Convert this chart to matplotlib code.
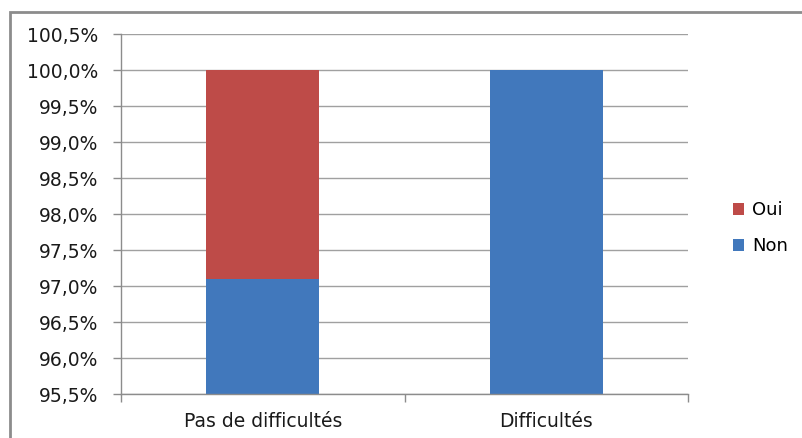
import matplotlib
matplotlib.use("Agg")
import matplotlib.pyplot as plt
from matplotlib.patches import Rectangle
from matplotlib.ticker import FuncFormatter, MultipleLocator

categories = ["Pas de difficultés", "Difficultés"]
non = [97.1, 100.0]
oui = [2.9, 0.0]

BLUE = "#4178BC"
RED = "#BE4B48"
GRID = "#A0A0A0"
AXIS = "#8C8C8C"

plt.rcParams["font.family"] = ["DejaVu Sans"]

fig = plt.figure(figsize=(8.03, 4.38), dpi=100)
ax = fig.add_axes([121 / 803, 1 - 394 / 438, (688 - 121) / 803, (394 - 34) / 438])

x = range(len(categories))
ax.bar(x, non, width=0.4, color=BLUE, label="Non", zorder=2)
ax.bar(x, oui, width=0.4, bottom=non, color=RED, label="Oui", zorder=2)

ax.set_xlim(-0.5, len(categories) - 0.5)
ax.set_ylim(95.5, 100.5)
ax.yaxis.set_major_locator(MultipleLocator(0.5))
ax.yaxis.set_major_formatter(FuncFormatter(lambda v, _: f"{v:.1f}%".replace(".", ",")))
ax.grid(axis="y", color=GRID, linewidth=1, zorder=0)

ax.set_xticks(list(x), labels=categories)
ax.set_xticks([-0.5, 0.5, 1.5], minor=True)
ax.tick_params(axis="x", which="major", length=0, pad=13, labelsize=13.5, colors="#1a1a1a")
ax.tick_params(axis="x", which="minor", length=6, color=AXIS, width=1)
ax.tick_params(axis="y", length=6, color=AXIS, width=1, labelsize=13.5, labelcolor="#1a1a1a", pad=10.5)

for side in ("top", "right"):
    ax.spines[side].set_visible(False)
for side in ("left", "bottom"):
    ax.spines[side].set_color(AXIS)
    ax.spines[side].set_linewidth(1)

handles, labels = ax.get_legend_handles_labels()
ax.legend(handles[::-1], labels[::-1], loc="center left", bbox_to_anchor=(1.05, 0.46),
          frameon=False, fontsize=13, handlelength=0.65, handleheight=0.65,
          handletextpad=0.45, labelspacing=1.0)

# outer chart frame (top and left edges visible)
fig.patches.append(Rectangle((10 / 803, -0.1), 1.2, 1 - 12 / 438 + 0.1, transform=fig.transFigure,
                             fill=False, edgecolor=AXIS, linewidth=2))

fig.savefig("out.png", dpi=100)
